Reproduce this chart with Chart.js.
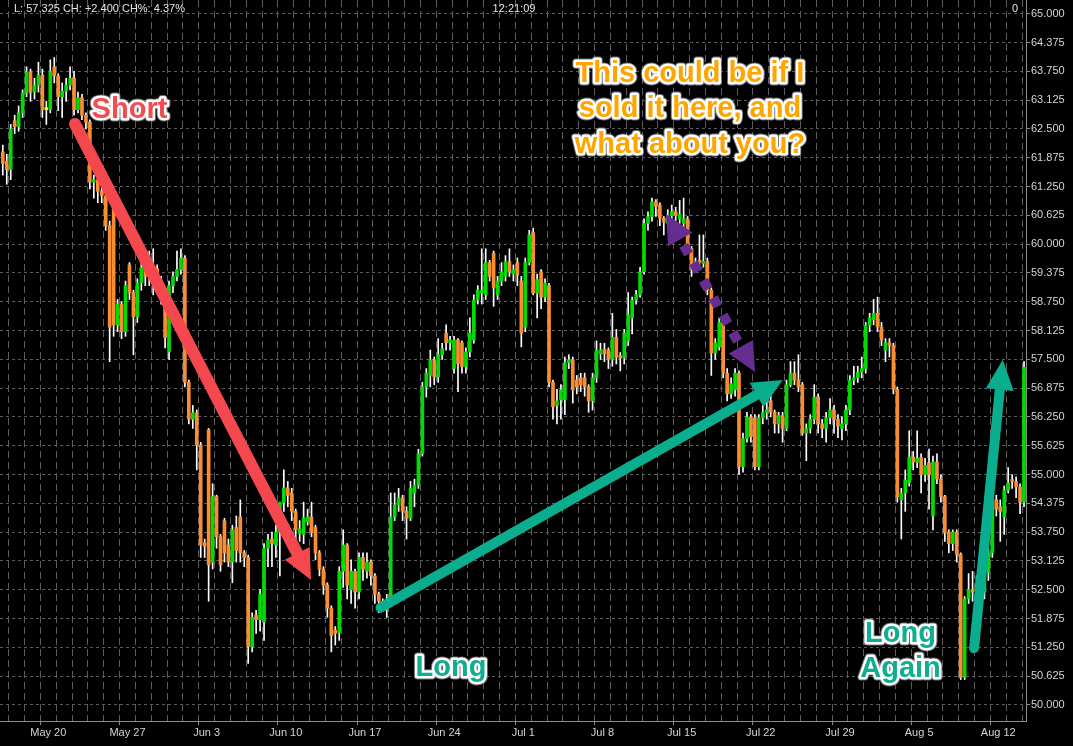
<!DOCTYPE html>
<html>
<head>
<meta charset="utf-8">
<script src="https://cdn.jsdelivr.net/npm/chart.js@4.4.1/dist/chart.umd.min.js"></script>
<style>
html, body { margin: 0; padding: 0; background: #000; }
canvas { display: block; }
</style>
</head>
<body>
<canvas id="priceChart" width="1073" height="746"></canvas>
<script>
// price bars, 4 per trading day, bar index is the x value
var opens = [
  62.00, 61.80, 61.62, 62.68, 62.55, 62.85, 63.28, 63.74, 63.30, 63.45,
  63.67, 62.92, 62.92, 63.85, 63.65, 63.20, 63.32, 63.45, 63.60, 62.92,
  63.18, 62.80, 62.65, 61.35, 61.40, 61.15, 61.05, 60.40, 60.80, 58.25,
  58.70, 58.10, 59.55, 58.95, 58.42, 59.16, 59.49, 59.30, 59.38, 59.47,
  59.22, 58.80, 57.66, 59.10, 59.30, 59.45, 59.70, 57.00, 56.20, 56.34,
  55.64, 53.52, 55.97, 53.10, 54.52, 53.65, 54.00, 53.47, 53.10, 53.85,
  54.08, 53.30, 53.20, 51.26, 51.95, 51.85, 51.80, 53.40, 53.60, 53.47,
  53.75, 54.39, 54.71, 54.60, 54.20, 53.72, 53.70, 53.98, 54.08, 53.85,
  53.30, 52.95, 52.60, 52.10, 51.62, 51.57, 52.90, 53.47, 52.50, 52.90,
  52.45, 53.20, 52.90, 53.10, 52.80, 52.40, 52.25, 52.20, 52.30, 54.08,
  54.34, 54.49, 54.20, 54.05, 54.60, 54.77, 55.45, 56.90, 57.15, 57.49,
  57.12, 57.60, 58.07, 57.86, 57.30, 57.92, 57.86, 57.34, 57.66, 57.92,
  58.79, 58.95, 58.90, 59.60, 59.80, 58.90, 59.20, 59.30, 59.62, 59.35,
  59.60, 59.20, 58.20, 59.60, 60.25, 58.94, 59.40, 58.85, 59.10, 57.00,
  56.50, 56.62, 56.62, 57.43, 57.49, 57.05, 57.10, 57.10, 56.90, 56.60,
  57.10, 57.62, 57.72, 57.70, 57.50, 57.98, 57.58, 57.53, 57.90, 58.40,
  58.79, 58.90, 59.40, 60.45, 60.60, 60.92, 60.85, 60.56, 60.45, 60.62,
  60.70, 60.55, 60.45, 60.55, 59.90, 59.50, 59.65, 59.58, 59.63, 59.00,
  57.64, 57.77, 58.36, 57.20, 56.75, 56.84, 57.20, 55.17, 55.78, 56.25,
  56.23, 55.17, 56.23, 56.35, 56.60, 56.35, 56.10, 56.28, 56.00, 56.95,
  57.20, 57.05, 56.95, 55.90, 56.00, 56.20, 56.68, 56.10, 56.00, 56.23,
  56.40, 56.20, 56.00, 56.10, 56.40, 57.05, 57.10, 57.22, 57.30, 58.24,
  58.36, 58.50, 58.20, 57.70, 57.86, 57.80, 56.85, 54.45, 54.60, 54.83,
  55.38, 55.27, 55.37, 55.00, 55.25, 54.10, 55.27, 54.90, 54.52, 53.75,
  53.50, 53.75, 53.27, 50.60, 52.30, 52.50, 52.45, 52.80, 52.45, 52.87,
  53.30, 54.45, 54.30, 54.08, 54.66, 54.88, 54.85, 54.73, 54.40
];
var highs = [
  62.15, 61.95, 62.60, 62.80, 63.00, 63.35, 63.85, 63.80, 63.60, 63.95,
  63.80, 63.10, 64.00, 64.05, 63.70, 63.50, 63.60, 63.85, 63.75, 63.30,
  63.25, 62.85, 62.70, 61.50, 61.50, 61.25, 61.10, 60.50, 60.85, 58.80,
  58.75, 59.20, 59.60, 59.00, 59.25, 59.60, 59.80, 59.85, 59.90, 59.55,
  59.30, 58.85, 59.20, 59.40, 59.85, 59.90, 59.75, 57.05, 56.50, 56.40,
  55.70, 53.60, 56.00, 54.80, 54.55, 53.70, 54.05, 53.60, 53.90, 54.10,
  54.45, 53.35, 53.25, 52.00, 52.05, 52.50, 53.50, 53.70, 53.75, 53.90,
  54.40, 55.10, 54.85, 54.70, 54.25, 54.00, 54.40, 54.25, 54.40, 53.90,
  53.35, 53.00, 52.65, 52.15, 51.70, 53.00, 53.80, 53.50, 53.15, 52.95,
  53.30, 53.30, 53.30, 53.15, 52.85, 52.45, 52.30, 52.40, 54.60, 54.60,
  54.70, 54.55, 54.30, 54.85, 54.90, 55.55, 57.00, 57.30, 57.70, 57.55,
  57.95, 57.85, 58.25, 58.00, 58.00, 57.95, 57.90, 57.75, 58.40, 58.90,
  59.10, 59.90, 59.90, 59.65, 59.85, 59.30, 59.60, 59.75, 59.90, 59.55,
  59.70, 59.30, 59.70, 60.30, 60.35, 59.35, 59.45, 59.25, 59.15, 57.05,
  56.85, 56.95, 57.55, 57.60, 57.55, 57.15, 57.20, 57.20, 56.95, 57.20,
  57.90, 57.85, 57.85, 57.75, 58.50, 58.15, 57.65, 58.15, 58.95, 58.85,
  59.00, 59.50, 60.55, 60.70, 61.00, 60.97, 60.90, 60.60, 60.75, 60.85,
  60.80, 60.95, 61.00, 60.60, 59.95, 59.70, 60.20, 60.20, 59.70, 59.05,
  57.95, 58.40, 58.40, 57.30, 57.10, 57.30, 57.25, 55.90, 56.35, 56.30,
  56.30, 56.30, 56.50, 56.60, 57.00, 56.40, 56.35, 56.35, 57.05, 57.45,
  57.45, 57.60, 57.00, 56.10, 56.30, 56.95, 56.75, 56.20, 56.35, 56.65,
  56.50, 56.30, 56.25, 56.50, 57.15, 57.35, 57.35, 57.55, 58.30, 58.50,
  58.80, 58.85, 58.30, 57.95, 57.95, 57.85, 56.90, 54.70, 55.10, 55.95,
  55.50, 55.95, 55.45, 55.35, 55.55, 55.40, 55.45, 55.00, 54.55, 53.80,
  53.80, 53.80, 53.30, 52.35, 52.85, 52.90, 52.80, 52.95, 53.00, 53.40,
  54.55, 54.55, 54.45, 54.75, 55.15, 55.00, 54.95, 54.80, 57.45
];
var lows = [
  61.50, 61.30, 61.40, 62.40, 62.45, 62.75, 63.20, 63.10, 63.15, 63.30,
  62.75, 62.60, 62.85, 63.50, 62.90, 62.75, 63.10, 63.35, 62.80, 62.85,
  62.70, 62.50, 61.20, 61.00, 60.90, 60.90, 60.30, 57.45, 58.00, 58.10,
  57.95, 58.00, 58.80, 57.60, 58.30, 59.00, 59.10, 59.10, 58.90, 59.00,
  58.70, 57.75, 57.50, 58.95, 59.20, 59.35, 56.90, 56.10, 56.00, 55.10,
  53.20, 53.20, 52.25, 52.95, 53.40, 52.90, 53.10, 53.00, 52.65, 53.10,
  53.10, 53.00, 50.90, 51.15, 51.55, 51.60, 51.40, 53.00, 53.00, 53.20,
  52.80, 54.20, 54.30, 54.00, 53.60, 53.55, 53.50, 53.90, 53.65, 53.15,
  52.80, 52.40, 51.90, 51.15, 51.30, 51.40, 52.55, 52.30, 52.20, 52.10,
  52.30, 52.70, 52.75, 52.60, 52.20, 52.00, 52.05, 51.90, 52.20, 54.00,
  54.20, 54.00, 53.60, 54.00, 54.30, 54.70, 55.40, 56.68, 56.90, 56.95,
  57.00, 57.50, 57.70, 57.70, 57.20, 56.80, 57.20, 57.20, 57.55, 57.85,
  58.70, 58.70, 58.80, 59.20, 58.65, 58.80, 59.10, 59.20, 59.30, 59.20,
  59.10, 57.77, 58.10, 59.55, 58.90, 58.40, 58.60, 58.75, 56.90, 56.20,
  56.10, 56.20, 56.30, 57.30, 56.55, 56.75, 56.80, 56.70, 56.35, 56.40,
  57.00, 57.50, 57.45, 57.30, 57.35, 57.40, 57.25, 57.40, 57.80, 58.05,
  58.70, 58.85, 59.35, 60.30, 60.50, 60.60, 60.40, 60.20, 60.35, 60.50,
  60.50, 60.45, 60.35, 59.85, 59.30, 59.40, 59.50, 59.50, 58.90, 57.15,
  57.50, 57.70, 57.10, 56.60, 56.65, 56.70, 55.00, 55.05, 55.70, 55.70,
  55.10, 55.10, 56.10, 56.20, 56.25, 55.90, 55.90, 55.70, 55.95, 56.90,
  56.95, 56.80, 55.85, 55.30, 55.90, 56.10, 55.90, 55.80, 55.70, 56.10,
  55.90, 55.80, 55.75, 55.95, 56.30, 56.95, 57.00, 57.10, 57.20, 58.10,
  58.25, 58.10, 57.80, 57.45, 57.55, 56.75, 54.40, 53.60, 54.20, 54.75,
  55.10, 55.15, 54.60, 54.85, 54.25, 53.80, 54.80, 54.40, 53.55, 53.30,
  53.35, 53.10, 50.55, 50.55, 52.20, 52.25, 52.30, 52.30, 52.30, 52.70,
  53.20, 54.10, 53.55, 53.70, 54.60, 54.70, 54.50, 54.15, 54.30
];
var closes = [
  61.75, 61.62, 62.50, 62.55, 62.85, 63.28, 63.74, 63.30, 63.45, 63.67,
  62.92, 62.92, 63.75, 63.65, 63.20, 63.32, 63.45, 63.60, 62.92, 63.18,
  62.80, 62.65, 61.35, 61.40, 61.15, 61.05, 60.40, 58.20, 58.25, 58.70,
  58.10, 59.10, 58.95, 58.42, 59.16, 59.49, 59.30, 59.45, 59.47, 59.22,
  58.80, 57.97, 59.10, 59.30, 59.45, 59.70, 57.00, 56.20, 56.34, 55.64,
  53.47, 53.45, 53.04, 54.52, 53.65, 53.04, 53.30, 53.10, 53.80, 53.35,
  53.30, 53.20, 51.26, 51.90, 51.85, 52.40, 53.40, 53.58, 53.50, 53.75,
  54.39, 54.71, 54.55, 54.20, 53.80, 53.82, 54.06, 54.08, 53.75, 53.30,
  52.95, 52.60, 52.10, 51.50, 51.55, 52.90, 53.47, 52.60, 52.90, 52.45,
  53.20, 52.95, 53.10, 52.80, 52.40, 52.25, 52.20, 52.30, 54.08, 54.34,
  54.49, 54.20, 54.05, 54.70, 54.77, 55.45, 56.90, 57.20, 57.49, 57.12,
  57.60, 57.73, 57.86, 57.92, 57.92, 57.40, 57.34, 57.66, 58.07, 58.79,
  59.00, 59.00, 59.60, 59.30, 59.05, 59.20, 59.40, 59.62, 59.40, 59.45,
  59.33, 58.07, 59.60, 60.20, 58.94, 59.23, 58.85, 59.16, 57.00, 56.47,
  56.60, 56.84, 57.43, 57.49, 56.84, 56.90, 56.95, 56.90, 56.60, 57.10,
  57.70, 57.70, 57.62, 57.50, 57.98, 57.55, 57.53, 58.07, 58.47, 58.79,
  58.90, 59.40, 60.45, 60.60, 60.92, 60.82, 60.56, 60.48, 60.62, 60.70,
  60.62, 60.65, 60.55, 59.90, 59.45, 59.62, 59.60, 59.63, 59.00, 57.64,
  57.86, 58.30, 57.20, 56.75, 56.97, 57.20, 55.17, 55.78, 56.25, 55.82,
  55.17, 56.23, 56.35, 56.40, 56.35, 56.10, 56.28, 56.00, 56.95, 57.20,
  57.05, 56.90, 55.90, 56.00, 56.20, 56.68, 56.10, 56.00, 56.23, 56.40,
  56.19, 56.05, 56.10, 56.40, 57.05, 57.10, 57.22, 57.30, 58.24, 58.40,
  58.50, 58.20, 57.92, 57.86, 57.80, 56.85, 54.52, 54.60, 54.88, 55.38,
  55.27, 55.35, 55.00, 55.20, 55.00, 55.27, 54.90, 54.52, 53.73, 53.50,
  53.75, 53.27, 50.60, 52.30, 52.50, 52.45, 52.60, 52.50, 52.87, 53.30,
  54.45, 54.25, 54.20, 54.66, 54.82, 54.85, 54.73, 54.40, 57.325
];

// axis ticks
var xTickLabels = ['May 20', 'May 27', 'Jun 3', 'Jun 10', 'Jun 17', 'Jun 24', 'Jul 1',
                   'Jul 8', 'Jul 15', 'Jul 22', 'Jul 29', 'Aug 5', 'Aug 12'];
var xLabelBars = [11.5, 31.5, 51.5, 71.5, 91.5, 111.5, 131.5, 151.5, 171.5, 191.5, 211.5, 231.5, 251.5];
var yTickValues = [50, 50.625, 51.25, 51.875, 52.5, 53.125, 53.75, 54.375, 55, 55.625,
                   56.25, 56.875, 57.5, 58.125, 58.75, 59.375, 60, 60.625, 61.25, 61.875,
                   62.5, 63.125, 63.75, 64.375, 65];

// drawn annotations, in (bar, price)
var arrows = [
  { from: [18.24, 62.61], to: [77.87, 52.71], color: '#f5484e', width: 12 },
  { from: [95.43, 52.11], to: [197.04, 57.05], color: '#0aad8d', width: 10 },
  { from: [245.38, 51.23], to: [252.63, 57.49], color: '#0aad8d', width: 10 },
  { from: [167.56, 60.655], to: [190.04, 57.225], color: '#662d91', width: 10, dotted: true }
];
var notes = [
  { lines: ['Short'], at: [32.0, 62.74], color: '#f54a50' },
  { lines: ['This could be if I', 'sold it here, and', 'what about you?'], at: [173.6, 63.53], color: '#ffa500' },
  { lines: ['Long'], at: [113.24, 50.63], color: '#0fae91' },
  { lines: ['Long', 'Again'], at: [226.8, 51.365], color: '#0fae91' }
];

var dayLines = [];
for (var m = 0; m < 65; m++) dayLines.push(-0.5 + 4 * m);

var bodies = [], wicks = [], barColors = [];
for (var i = 0; i < closes.length; i++)
{
    bodies.push({ x: i, y: [opens[i], closes[i]] });
    wicks.push({ x: i, y: [lows[i], highs[i]] });
    if (closes[i] > opens[i]) barColors.push('#00dc00');
    else if (closes[i] < opens[i]) barColors.push('#fa8c32');
    else barColors.push('#ffff00');
}

function drawHead(ctx, tip, ux, uy, len, half)
{
    var bx = tip[0] - ux * len, by = tip[1] - uy * len;
    ctx.beginPath();
    ctx.moveTo(tip[0], tip[1]);
    ctx.lineTo(bx - uy * half, by + ux * half);
    ctx.lineTo(bx + uy * half, by - ux * half);
    ctx.closePath();
    ctx.fill();
}

var overlay = {
    id: 'overlay',
    beforeDraw: function(chart)
    {
        var ctx = chart.ctx;
        ctx.save();
        ctx.fillStyle = '#000';
        ctx.fillRect(0, 0, chart.width, chart.height);
        ctx.restore();
    },
    afterDatasetsDraw: function(chart)
    {
        var ctx = chart.ctx, xs = chart.scales.x, ys = chart.scales.y;
        function toPx(p) { return [xs.getPixelForValue(p[0]), ys.getPixelForValue(p[1])]; }

        arrows.forEach(function(a)
        {
            var s = toPx(a.from), e = toPx(a.to);
            var dx = e[0] - s[0], dy = e[1] - s[1], len = Math.hypot(dx, dy);
            var ux = dx / len, uy = dy / len, headLen = a.dotted ? 29 : 30;
            ctx.save();
            ctx.strokeStyle = a.color;
            ctx.fillStyle = a.color;
            ctx.lineWidth = a.width;
            ctx.beginPath();
            if (a.dotted) //square dots between two heads
            {
                ctx.setLineDash([10, 10]);
                ctx.lineDashOffset = 13;
                ctx.lineCap = 'butt';
                ctx.moveTo(s[0] + ux * headLen, s[1] + uy * headLen);
            }
            else
            {
                ctx.lineCap = 'round';
                ctx.moveTo(s[0], s[1]);
            }
            ctx.lineTo(e[0] - ux * headLen, e[1] - uy * headLen);
            ctx.stroke();
            ctx.setLineDash([]);
            drawHead(ctx, e, ux, uy, headLen, 14);
            if (a.dotted) drawHead(ctx, s, -ux, -uy, headLen, 14);
            ctx.restore();
        });

        ctx.save();
        ctx.font = 'bold 29px "Liberation Sans", Arial, sans-serif';
        ctx.textAlign = 'center';
        ctx.textBaseline = 'alphabetic';
        ctx.lineJoin = 'round';
        notes.forEach(function(n)
        {
            var p = toPx(n.at);
            var step = 35.5;
            n.lines.forEach(function(line, k)
            {
                var y = p[1] + k * step;
                ctx.strokeStyle = 'rgba(150,150,150,0.7)';
                ctx.lineWidth = 7;
                ctx.strokeText(line, p[0], y);
                ctx.strokeStyle = '#ffffff';
                ctx.lineWidth = 5;
                ctx.strokeText(line, p[0], y);
                ctx.fillStyle = n.color;
                ctx.fillText(line, p[0], y);
            });
        });
        ctx.restore();
    },
    afterDraw: function(chart)
    {
        var ctx = chart.ctx;
        ctx.save();
        ctx.font = '11px "Liberation Sans", Arial, sans-serif';
        ctx.fillStyle = '#e6e6e6';
        ctx.textBaseline = 'middle';
        ctx.textAlign = 'left';
        ctx.fillText('L: 57.325 CH: +2.400 CH%: 4.37%', 14, 9);
        ctx.textAlign = 'center';
        ctx.fillText('12:21:09', 514, 9);
        ctx.textAlign = 'right';
        ctx.fillText('0', 1018, 9);
        ctx.restore();
    }
};

var gridGray = '#5c5c5c';
var axisGray = '#8c8c8c';
var labelFont = { family: '"Liberation Sans", Arial, sans-serif', size: 11 };

new Chart(document.getElementById('priceChart').getContext('2d'), {
    type: 'bar',
    data: {
        datasets: [
            {
                data: bodies,
                backgroundColor: barColors,
                barThickness: 3,
                minBarLength: 2,
                grouped: false,
                borderWidth: 0,
                order: 0
            },
            {
                data: wicks,
                backgroundColor: '#ffffff',
                barThickness: 1,
                grouped: false,
                borderWidth: 0,
                order: 1
            }
        ]
    },
    options: {
        responsive: false,
        devicePixelRatio: 1,
        animation: false,
        events: [],
        layout: { padding: 0 },
        plugins: { legend: { display: false }, tooltip: { enabled: false } },
        scales: {
            x: {
                type: 'linear',
                position: 'bottom',
                offset: false,
                min: -0.707,
                max: 258.5,
                afterBuildTicks: function(scale) { scale.ticks = dayLines.map(function(v) { return { value: v }; }); },
                afterFit: function(scale) { scale.height = 25; scale.paddingLeft = 0; scale.paddingRight = 0; },
                grid: {
                    color: gridGray,
                    lineWidth: 1,
                    tickLength: 4,
                    tickColor: function(c) { return (c.tick && xLabelBars.indexOf(c.tick.value) >= 0) ? axisGray : 'rgba(0,0,0,0)'; }
                },
                border: { display: true, color: axisGray, width: 1, dash: [7, 4] },
                ticks: {
                    autoSkip: false,
                    maxRotation: 0,
                    minRotation: 0,
                    padding: 1,
                    color: '#d4d4d4',
                    font: labelFont,
                    callback: function(value) { var k = xLabelBars.indexOf(value); return k >= 0 ? xTickLabels[k] : ''; }
                }
            },
            y: {
                type: 'linear',
                position: 'right',
                min: 49.65,
                max: 65.30,
                afterBuildTicks: function(scale) { scale.ticks = yTickValues.map(function(v) { return { value: v }; }); },
                afterFit: function(scale) { scale.width = 47; scale.paddingTop = 0; scale.paddingBottom = 0; },
                grid: { color: gridGray, lineWidth: 1, tickLength: 4, tickColor: axisGray },
                border: { display: true, color: axisGray, width: 1, dash: [3, 3] },
                ticks: {
                    padding: 1,
                    color: '#d4d4d4',
                    font: labelFont,
                    callback: function(value) { return Number(value).toFixed(3); }
                }
            }
        }
    },
    plugins: [overlay]
});
</script>
</body>
</html>
